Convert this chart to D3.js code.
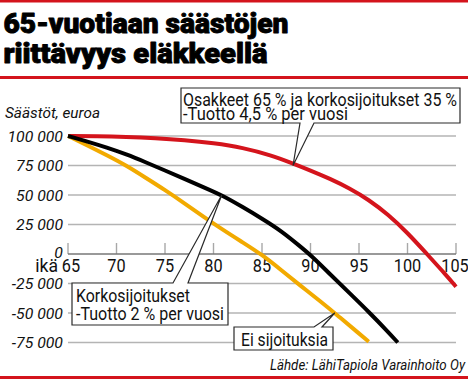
<!DOCTYPE html>
<html><head><meta charset="utf-8">
<script src="https://cdn.jsdelivr.net/npm/d3@7"></script>
<style>
html,body{margin:0;padding:0;background:#fff;}
svg{display:block;}
text{font-family:Roboto,"Liberation Sans",sans-serif;}
</style></head>
<body>
<svg id="c" width="468" height="379"></svg>
<script>
// ---- data ----
const titleLines = ["65-vuotiaan säästöjen", "riittävyys eläkkeellä"];
const yTicks = [100000, 75000, 50000, 25000, 0, -25000, -50000, -75000];
const xTicks = [65, 70, 75, 80, 85, 90, 95, 100, 105];

const redAges = [65,68,71,74,77,80,83,86,88,90,92,94,96,98,100,102,104,105];
const redVals = [100000,99900,99300,98200,96500,94000,90200,83500,77300,70800,63800,55800,46000,33500,18000,0,-18000,-27700];

const blackAges = [65,67,69,71,73,75,77,79,81,83,85,87,89,90,92,94,96,98,99];
const blackVals = [100000,95300,90200,84500,77800,70800,63700,56500,49300,39800,30000,19500,6000,-800,-17000,-33000,-49000,-66000,-75000];

const yellowAges = [65,67,69,71,73,75,77,79,81,83,85,87,89,91,93,95,96];
const yellowVals = [100000,92000,83700,75000,64600,54200,43000,31400,20300,9900,-600,-13800,-27000,-40000,-53500,-67400,-74300];

const labelRed = ["Osakkeet 65 % ja korkosijoitukset 35 %", "-Tuotto 4,5 % per vuosi"];
const labelBlack = ["Korkosijoitukset", "-Tuotto 2 % per vuosi"];
const labelYellow = ["Ei sijoituksia"];
const yTitle = "Säästöt, euroa";
const xTitle = "ikä";
const source = "Lähde: LähiTapiola Varainhoito Oy";

// ---- helpers ----
const svg = d3.select("#c");
const fmt = v => (v < 0 ? "-" : "") + d3.format(",")(Math.abs(v)).replace(/,/g, " ");
function fit(sel, w) { sel.attr("textLength", w).attr("lengthAdjust", "spacingAndGlyphs"); return sel; }
function squeeze(sel, f) {
  sel.each(function(){ const l = this.getComputedTextLength(); d3.select(this).attr("textLength", l*f).attr("lengthAdjust","spacingAndGlyphs"); });
  return sel;
}

// ---- frame ----
const RED = "#d4141c";
svg.append("rect").attr("x",0).attr("y",0).attr("width",468).attr("height",2.5).attr("fill",RED);
svg.append("rect").attr("x",0).attr("y",76).attr("width",468).attr("height",3).attr("fill",RED);
svg.append("rect").attr("x",0).attr("y",376).attr("width",468).attr("height",3).attr("fill",RED);

// title
const tw = [285, 264];
titleLines.forEach((t,i) => {
  fit(svg.append("text").attr("x",3.5).attr("y",33 + i*29.5)
    .attr("font-size",28).attr("font-weight",900).attr("fill","#000")
    .attr("stroke","#000").attr("stroke-width",0.9).attr("stroke-linejoin","round").text(t), tw[i]);
});

// ---- scales ----
const x = d3.scaleLinear().domain([65,105]).range([68,456]);
const y = d3.scaleLinear().domain([-75000,100000]).range([342.5,136]);

// gridlines
svg.append("g").selectAll("line").data(yTicks.filter(d=>d!==0)).join("line")
  .attr("x1",x(65)).attr("x2",x(105)).attr("y1",d=>y(d)).attr("y2",d=>y(d))
  .attr("stroke","#b4b4b4").attr("stroke-width",1.4);

// y labels
squeeze(svg.append("g").selectAll("text").data(yTicks).join("text")
  .attr("x",63).attr("y",d=>y(d) - (d===0?2:0)).attr("dy","0.36em").attr("text-anchor","end")
  .attr("font-size",15.5).attr("font-style","italic").attr("fill","#111").text(fmt), 1.02);

// y title
fit(svg.append("text").attr("x",5).attr("y",118).attr("font-size",15.5).attr("font-style","italic")
  .attr("fill","#111").text(yTitle), 95);

// zero axis and ticks
svg.append("g").selectAll("line").data(xTicks).join("line")
  .attr("x1",d=>x(d)).attr("x2",d=>x(d)).attr("y1",y(0)-11).attr("y2",y(0))
  .attr("stroke","#a8a8a8").attr("stroke-width",1.4);
svg.append("line").attr("x1",x(65)).attr("x2",x(105)).attr("y1",y(0)).attr("y2",y(0))
  .attr("stroke","#777").attr("stroke-width",1.5);

squeeze(svg.append("g").selectAll("text").data(xTicks).join("text")
  .attr("x",(d,i)=>x(d) + (i===0?3:0) - (i===xTicks.length-1?1:0)).attr("y",272).attr("text-anchor","middle")
  .attr("font-size",18.5).attr("fill","#111").text(d=>d), 0.88);
squeeze(svg.append("text").attr("x",58).attr("y",272).attr("text-anchor","end")
  .attr("font-size",18.5).attr("fill","#111").text(xTitle), 0.95);

// ---- lines ----
const line = d3.line().x(d=>x(d[0])).y(d=>y(d[1])).curve(d3.curveBasis);
const series = [
  {ages: redAges, vals: redVals, color: RED},
  {ages: yellowAges, vals: yellowVals, color: "#f2aa00"},
  {ages: blackAges, vals: blackVals, color: "#000"}
];
series.forEach(s => {
  svg.append("path").datum(s.ages.map((a,i)=>[a, s.vals[i]]))
    .attr("d", line).attr("fill","none").attr("stroke", s.color)
    .attr("stroke-width",4).attr("stroke-linejoin","round");
});

// ---- callouts ----
const stroke = "#2a2a2a";
// red
const tipR = [x(88.2), y(75000)];
svg.append("path").attr("d",
  `M181,88 H460 V123 H314 L${tipR[0]},${tipR[1]} L300,123 H181 Z`)
  .attr("fill","#fff").attr("stroke",stroke).attr("stroke-width",1.2);
const fs = 17.5;
fit(svg.append("text").attr("x",183).attr("y",106).attr("font-size",fs).attr("fill","#111").text(labelRed[0]), 274);
fit(svg.append("text").attr("x",183).attr("y",120).attr("font-size",fs).attr("fill","#111").text(labelRed[1]), 165);

// black
const tipB = [x(80.85), y(50000)];
svg.append("path").attr("d",
  `M72,283 H173 L${tipB[0]},${tipB[1]} L188,283 H228 V325 H72 Z`)
  .attr("fill","#fff").attr("stroke",stroke).attr("stroke-width",1.2);
fit(svg.append("text").attr("x",76).attr("y",302).attr("font-size",fs).attr("fill","#111").text(labelBlack[0]), 114);
fit(svg.append("text").attr("x",76).attr("y",320).attr("font-size",fs).attr("fill","#111").text(labelBlack[1]), 148);

// yellow
const tipY = [x(92.5), y(-50000)];
svg.append("path").attr("d",
  `M234,327 H314 L${tipY[0]},${tipY[1]} L322,327 H333 V350 H234 Z`)
  .attr("fill","#fff").attr("stroke",stroke).attr("stroke-width",1.2);
fit(svg.append("text").attr("x",241).attr("y",345.5).attr("font-size",fs).attr("fill","#111").text(labelYellow[0]), 87);

// source
fit(svg.append("text").attr("x",465).attr("y",370).attr("text-anchor","end").attr("font-size",14)
  .attr("font-style","italic").attr("fill","#111").text(source), 195);
</script>
</body></html>
